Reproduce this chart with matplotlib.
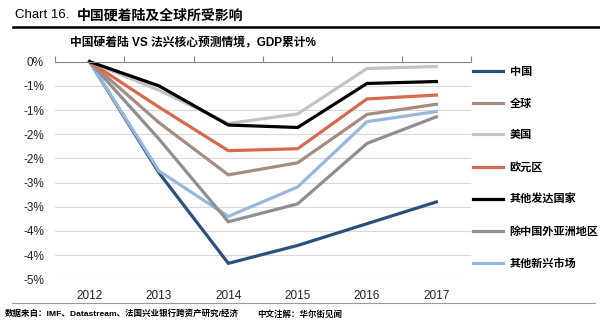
import numpy as np
import matplotlib.pyplot as plt

plt.rcParams['font.family'] = ['Liberation Sans', 'Noto Sans CJK SC']

years = ['2012', '2013', '2014', '2015', '2016', '2017']
ytick_vals = [0, -0.5, -1, -1.5, -2, -2.5, -3, -3.5, -4, -4.5]
ytick_labels = ['0%', '-1%', '-1%', '-2%', '-2%', '-3%', '-3%', '-4%', '-4%', '-5%']

# cumulative GDP impact, %
china = [0, -2.3, -4.17, -3.8, -3.35, -2.9]
world = [0, -1.26, -2.34, -2.09, -1.09, -0.88]
usa = [0, -0.59, -1.28, -1.08, -0.14, -0.10]
eurozone = [0, -0.94, -1.84, -1.80, -0.77, -0.69]
other_dev = [0, -0.5, -1.31, -1.36, -0.45, -0.41]
asia_ex_china = [0, -1.6, -3.31, -2.94, -1.69, -1.14]
other_em = [0, -2.26, -3.2, -2.59, -1.24, -1.03]

series = [
    ('中国', china, '#2B4F7E'),
    ('全球', world, '#A58B80'),
    ('美国', usa, '#C3C3C6'),
    ('欧元区', eurozone, '#D7694F'),
    ('其他发达国家', other_dev, '#000000'),
    ('除中国外亚洲地区', asia_ex_china, '#8E8E96'),
    ('其他新兴市场', other_em, '#97B8DC'),
]
# draw order (back to front) roughly as in the source
draw_order = [0, 6, 5, 1, 3, 2, 4]

fig = plt.figure(figsize=(6, 3.28), dpi=100)
ax = fig.add_axes([55 / 600, 1 - 279.3 / 328, (471 - 55) / 600, (279.3 - 61.7) / 328])

x = np.arange(len(years))
lines = {}
for i in draw_order:
    name, vals, col = series[i]
    ln, = ax.plot(x, vals, color=col, lw=2.3, clip_on=False, solid_joinstyle='miter')
    lines[i] = ln

ax.set_xlim(-0.5, len(years) - 0.5)
ax.set_ylim(-4.5, 0)
ax.set_yticks(ytick_vals)
ax.set_yticklabels(ytick_labels)
ax.set_xticks(x)
ax.set_xticklabels(years)
ax.tick_params(axis='y', length=0, pad=8, labelsize=8.5, colors='#222222')
ax.tick_params(axis='x', which='major', length=0, pad=8, labelsize=8.5, colors='#222222')
ax.set_xticks(np.arange(-0.5, len(years)), minor=True)
ax.tick_params(axis='x', which='minor', top=True, bottom=False, direction='out',
               length=4, color='#888888', width=0.8)
ax.grid(axis='y', color='#D9D9D9', lw=0.8)
for s in ['left', 'right', 'bottom']:
    ax.spines[s].set_visible(False)
ax.spines['top'].set_color('#888888')
ax.spines['top'].set_linewidth(0.8)

# legend
handles = [lines[i] for i in range(len(series))]
labels = [s[0] for s in series]
leg = fig.legend(handles, labels, loc='upper left', bbox_to_anchor=(463 / 600, 1 - 57 / 328),
                 frameon=False, handlelength=2.7, handletextpad=0.6, labelspacing=1.92,
                 prop={'size': 8, 'weight': 'bold'})

# header
fig.text(15 / 600, 1 - 15 / 328, 'Chart 16.', fontsize=9.5, va='center', ha='left')
fig.text(77 / 600, 1 - 15 / 328, '中国硬着陆及全球所受影响', fontsize=10, weight='bold',
         va='center', ha='left')
fig.add_artist(plt.Line2D([13 / 600, 1], [1 - 27 / 328] * 2, color='black', lw=1.8))
fig.text(70 / 600, 1 - 43 / 328, '中国硬着陆 VS 法兴核心预测情境，GDP累计%', fontsize=8.5,
         weight='bold', va='center', ha='left')

# footer
fig.add_artist(plt.Line2D([12 / 600, 595 / 600], [1 - 303 / 328] * 2, color='#999999', lw=0.8))
fig.text(5 / 600, 1 - 314 / 328, '数据来自：IMF、Datastream、法国兴业银行跨资产研究/经济',
         fontsize=6.1, weight='bold', va='center', ha='left')
fig.text(257 / 600, 1 - 314 / 328, '中文注解：华尔街见闻', fontsize=6.1, weight='bold',
         va='center', ha='left')

fig.savefig('out.png', dpi=100)
